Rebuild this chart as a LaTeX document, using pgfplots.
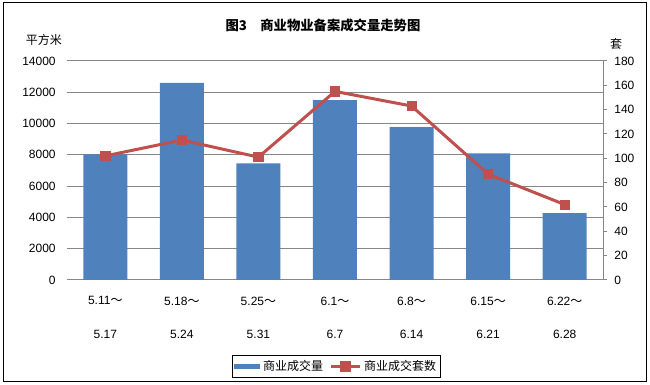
\documentclass[border=0pt]{standalone}
\usepackage{fontspec}
\setmainfont{Liberation Sans}
\newfontfamily\cjk{Noto Sans CJK SC}
\usepackage{pgfplots}
\pgfplotsset{compat=1.18}
\definecolor{barblue}{HTML}{4F81BD}
\definecolor{linered}{HTML}{C0504D}
\definecolor{gridgray}{HTML}{868686}
\pgfplotsset{mylineleg/.style={legend image code/.code={\draw[mark repeat=2,mark phase=2,##1] plot coordinates {(0pt,0pt) (11pt,0pt) (22pt,0pt)};}}}
\begin{document}
\begin{tikzpicture}
\useasboundingbox (0,0) rectangle (487.5pt,288.75pt);
\fill[white] (0,0) rectangle (487.5pt,288.75pt);
\draw[black, line width=0.75pt] (2.25pt,2.625pt) rectangle (484.5pt,286.5pt);
\node[font=\cjk\bfseries\fontsize{10}{12}\selectfont] at (242.25pt,270pt) {图3　商业物业备案成交量走势图};
\node[font=\cjk\fontsize{9}{10.8}\selectfont] at (33pt,258.75pt) {平方米};
\node[font=\cjk\fontsize{9}{10.8}\selectfont] at (462pt,255.75pt) {套};
\begin{axis}[
  at={(50.25pt,78.75pt)}, anchor=south west,
  scale only axis, width=402pt, height=164.25pt,
  xmin=-0.5, xmax=6.5, ymin=0, ymax=14000,
  enlargelimits=false,
  axis x line*=bottom, axis y line*=left,
  x axis line style={draw=gridgray, line width=0.75pt, -},
  y axis line style={draw=none},
  ytick={0,2000,...,14000},
  xtick={0,...,6},
  xticklabels={
    {5.11{\cjk ～}\\[14pt]5.17},
    {5.18{\cjk ～}\\[14pt]5.24},
    {5.25{\cjk ～}\\[14pt]5.31},
    {6.1{\cjk ～}\\[14pt]6.7},
    {6.8{\cjk ～}\\[14pt]6.14},
    {6.15{\cjk ～}\\[14pt]6.21},
    {6.22{\cjk ～}\\[14pt]6.28}},
  xticklabel style={align=center, yshift=-9pt},
  yticklabel style={xshift=-5pt},
  major tick length=0pt,
  ymajorgrids, grid style={gridgray, line width=0.75pt},
  scaled y ticks=false,
  /pgf/number format/1000 sep={},
  /pgf/number format/assume math mode=true,
  ticklabel style={font=\fontsize{9}{10.8}\selectfont},
  legend style={at={(0.503,-0.395)}, anchor=center, draw=black, line width=0.6pt,
    legend columns=2, font=\cjk\fontsize{9}{10.8}\selectfont,
    /tikz/every even column/.append style={column sep=3pt},
    inner sep=1.5pt},
]
\addplot[ybar, bar width=33pt, fill=barblue, draw=none,
  legend image code/.code={\fill[barblue] (0pt,-2pt) rectangle (19.5pt,2pt);}]
  coordinates {(0,8030) (1,12600) (2,7450) (3,11500) (4,9770) (5,8090) (6,4280)};
\addlegendentry{商业成交量}
\addlegendimage{linered, line width=1.8pt, mark=square*, mark size=3pt,
  mark options={fill=linered, draw=linered}, mylineleg}
\addlegendentry{商业成交套数}
\end{axis}
\begin{axis}[
  at={(50.25pt,78.75pt)}, anchor=south west,
  scale only axis, width=402pt, height=164.25pt,
  xmin=-0.5, xmax=6.5, ymin=0, ymax=180,
  enlargelimits=false,
  axis x line=none, axis y line*=right,
  y axis line style={draw=gridgray, line width=0.75pt, -},
  ytick={0,20,...,180},
  tick align=outside, major tick length=3pt,
  ytick style={draw=gridgray, line width=0.75pt},
  yticklabel style={xshift=2pt},
  /pgf/number format/assume math mode=true,
  ticklabel style={font=\fontsize{9}{10.8}\selectfont},
]
\addplot[linered, line width=2.25pt, mark=square*, mark size=3.5pt,
  mark options={fill=linered, draw=linered, line width=0.5pt}]
  coordinates {(0,102) (1,115) (2,101) (3,155) (4,143) (5,87) (6,62)};
\end{axis}
\end{tikzpicture}
\end{document}
